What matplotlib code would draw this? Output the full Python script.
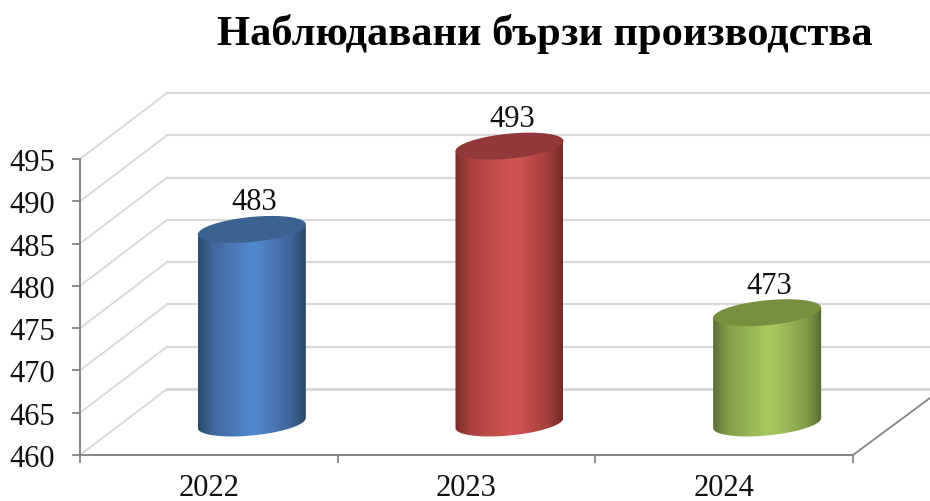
import numpy as np
import matplotlib
matplotlib.use('Agg')
import matplotlib.pyplot as plt
from matplotlib.colors import LinearSegmentedColormap
from matplotlib.patches import Polygon

plt.rcParams['font.family'] = ['Liberation Serif', 'DejaVu Serif']

title = 'Наблюдавани бързи производства'
years = ['2022', '2023', '2024']
values = [483, 493, 473]
y_ticks = [460, 465, 470, 475, 480, 485, 490, 495]
body_colors = [
    ['#2c4a6e', '#41699c', '#5288cf', '#4f82c4', '#3f659a', '#2a4669'],
    ['#7a2d2b', '#a8403e', '#d15552', '#cd5350', '#a33e3c', '#752b29'],
    ['#5a6e34', '#83a04b', '#a6c95f', '#a2c45c', '#7f9b48', '#566a32'],
]
top_colors = ['#3c638f', '#93383a', '#77903f']

W, H = 930, 502
LEFT, RIGHT, TOP, BOTTOM = 80, 853, 160, 456

fig = plt.figure(figsize=(W / 100, H / 100), dpi=100)
ax = fig.add_axes([LEFT / W, 1 - BOTTOM / H, (RIGHT - LEFT) / W, (BOTTOM - TOP) / H])
ax.set_xlim(0, 3)
ax.set_ylim(460, 495)

# pixels per data unit, depth of the fake 3d box is given in pixels
px_x = (RIGHT - LEFT) / 3
px_y = (BOTTOM - TOP) / 35
depth_x = 87 / px_x
depth_y = 66 / px_y

grid_color = '#d9d9d9'
axis_color = '#868686'

for tick in y_ticks:
    lw = 2.2 if tick == 460 else 1.6
    ax.plot([0, depth_x], [tick, tick + depth_y], color=grid_color, lw=1.4,
            clip_on=False, zorder=1)
    ax.plot([depth_x, 3.4], [tick + depth_y, tick + depth_y], color=grid_color,
            lw=lw, clip_on=False, zorder=1)
ax.plot([3, 3 + 77 / px_x], [460, 460 + 57 / px_y], color=axis_color, lw=1.3,
        clip_on=False, zorder=1)

# cylinders, drawn in data units from the values
half_w = 54 / px_x
skew = 5 / px_y
minor_h = 12.5 / px_y
base_y = 460 + 32 / px_y
bar_scale = 0.985
t = np.linspace(0, 2 * np.pi, 200)

for i in range(3):
    cx = i + 0.5 + depth_x / 2 - 0.002
    top_y = base_y + (values[i] - 460) * bar_scale + 2 / px_y
    ell_x = cx + half_w * np.cos(t)
    ell_off = skew * np.cos(t) + minor_h * np.sin(t)
    low = t[t >= np.pi]
    low_x = cx + half_w * np.cos(low)
    low_off = skew * np.cos(low) + minor_h * np.sin(low)

    body_x = np.concatenate([low_x, low_x[::-1]])
    body_y = np.concatenate([base_y + low_off, top_y + skew * np.cos(low[::-1])])
    clip = Polygon(np.column_stack([body_x, body_y]), transform=ax.transData,
                   fc='none', ec='none')
    ax.add_patch(clip)
    cmap = LinearSegmentedColormap.from_list('c', list(zip(
        [0, 0.14, 0.5, 0.6, 0.86, 1], body_colors[i])))
    im = ax.imshow(np.linspace(0, 1, 256).reshape(1, -1), cmap=cmap, aspect='auto',
                   extent=[cx - half_w, cx + half_w, base_y - 20 / px_y, top_y + 20 / px_y],
                   zorder=3, interpolation='bilinear')
    im.set_clip_path(clip)
    im.set_clip_box(fig.bbox)
    ax.fill(ell_x, top_y + ell_off, color=top_colors[i], lw=0, zorder=4, clip_on=False)
    ax.text(cx + 2.5 / px_x, top_y + 13 / px_y, str(values[i]), ha='center', va='bottom',
            fontsize=22, color='#111111', zorder=5)

ax.set_xlim(0, 3)
ax.set_ylim(460, 495)

ax.spines['top'].set_visible(False)
ax.spines['right'].set_visible(False)
for side in ['left', 'bottom']:
    ax.spines[side].set_color(axis_color)
    ax.spines[side].set_linewidth(1.4)

ax.set_yticks(y_ticks)
ax.set_xticks([0, 1, 2, 3])
ax.set_xticklabels([])
ax.set_xticks([0.5, 1.5, 2.5], labels=years, minor=True)
ax.tick_params(axis='y', length=6, width=1.3, color=axis_color, labelsize=22,
               pad=12, labelcolor='#111111')
for label in ax.get_yticklabels():
    label.set_verticalalignment('center_baseline')
ax.tick_params(axis='x', which='major', length=6, width=1.3, color=axis_color)
ax.tick_params(axis='x', which='minor', length=0, labelsize=22, pad=13,
               labelcolor='#111111')
ax.patch.set_alpha(0)

fig.text(545 / W, 1 - 34.5 / H, title, ha='center', va='center', fontsize=30.6,
         fontweight='bold', color='black')

fig.savefig('out.png', dpi=100)
